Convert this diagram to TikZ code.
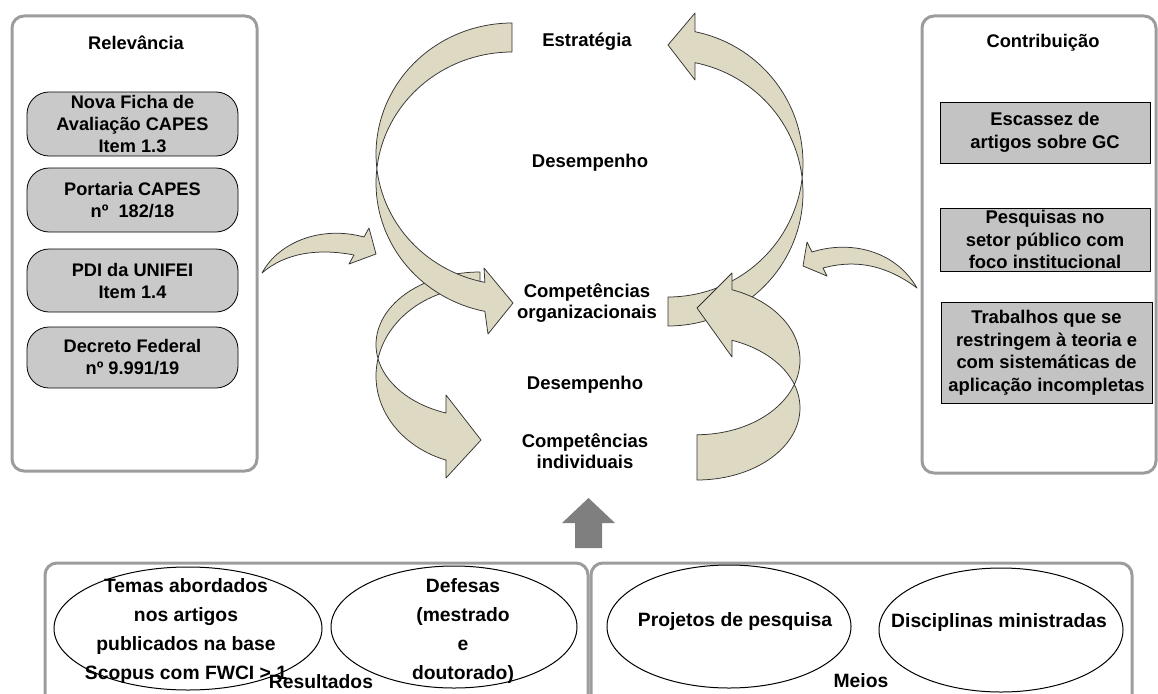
\documentclass[tikz,border=0pt]{standalone}
\usepackage{fontspec}
\setmainfont{Liberation Sans}
\usetikzlibrary{shapes.geometric}
\definecolor{arrowfill}{HTML}{DDD9C3}
\definecolor{arrowline}{HTML}{333333}
\definecolor{lboxgray}{HTML}{C9C9C9}
\definecolor{rboxgray}{HTML}{C3C3C3}
\definecolor{panelgray}{HTML}{9C9C9C}
\definecolor{upgray}{HTML}{7F7F7F}
\newcommand\myfont[2]{\fontsize{#1}{#2}\selectfont\bfseries}
\begin{document}
\begin{tikzpicture}[x=1pt,y=-1pt,
  panel/.style={draw=panelgray, line width=3pt, rounded corners=12pt},
  lbox/.style={draw=black, line width=0.8pt, fill=lboxgray, rounded corners=22pt, minimum width=211pt, align=center, font=\myfont{18.2}{22}, inner sep=0pt},
  rbox/.style={draw=black, line width=0.8pt, fill=rboxgray, minimum width=210pt, align=center, font=\myfont{18.4}{22.5}, inner sep=0pt},
  lbl/.style={align=center, font=\myfont{18.5}{21.5}, inner sep=0pt},
  title/.style={font=\myfont{18.3}{22}, inner sep=0pt},
  oval/.style={draw=black, line width=1pt, ellipse, inner sep=0pt},
  btxt/.style={align=center, font=\myfont{19.3}{29.3}, inner sep=0pt},
  bigarrow/.style={fill=arrowfill, draw=arrowline, line width=0.75pt, line join=round},
  uparrow/.style={fill=upgray, draw=none}
]
\useasboundingbox (0,0) rectangle (1158,693);
\clip (0,0) rectangle (1158,693);

% panels
\draw[panel] (12,16) rectangle (257,471);
\draw[panel] (922,16) rectangle (1156,473);
\draw[panel] (45,563) rectangle (588,720);
\draw[panel] (591,563) rectangle (1132,720);

% panel titles
\node[title] (trel) at (136,43) {Relevância};
\node[title] (tcon) at (1043,43) {Contribuição};

% left boxes
\node[lbox, minimum height=64pt] (b1) at (132.5,124) {Nova Ficha de\\Avaliação CAPES\\Item 1.3};
\node[lbox, minimum height=64pt] (b2) at (132.5,200) {Portaria CAPES\\nº\ \ 182/18};
\node[lbox, minimum height=63pt] (b3) at (132.5,280.5) {PDI da UNIFEI\\Item 1.4};
\node[lbox, minimum height=61pt] (b4) at (132.5,357.5) {Decreto Federal\\nº 9.991/19};

% right boxes
\node[rbox, minimum height=61pt] (rA) at (1045,132.5) {Escassez de\\artigos sobre GC};
\node[rbox, minimum height=63pt] (rB) at (1045,239.5) {Pesquisas no\\setor público com\\foco institucional};
\node[rbox, minimum width=211pt, minimum height=101pt] (rC) at (1046.5,352.5) {Trabalhos que se\\restringem à teoria e\\com sistemáticas de\\aplicação incompletas};

% big curved arrows
% arrow 3 (lower left)
\draw[bigarrow] plot[domain=270:109.1, samples=60, variable=\t] ({480+104*cos(\t)},{344.5+72.5*sin(\t)})
  -- (446,395) -- (481,440) -- (446,478)
  -- plot[domain=109.1:270, samples=60, variable=\t] ({480+104*cos(\t)},{376+89*sin(\t)}) -- cycle;
% arrow 1 (upper left)
\draw[bigarrow] plot[domain=270:101.5, samples=70, variable=\t] ({512+136*cos(\t)},{154+131*sin(\t)})
  -- (484,268) -- (513,303) -- (488,334)
  -- plot[domain=101.5:270, samples=70, variable=\t] ({512+136*cos(\t)},{183+131*sin(\t)}) -- cycle;
% arrow 2 (upper right)
\draw[bigarrow] plot[domain=90:-78.5, samples=70, variable=\t] ({668+135*cos(\t)},{163+134*sin(\t)})
  -- (695,13) -- (668,45) -- (695,80)
  -- plot[domain=-78.5:90, samples=70, variable=\t] ({668+135*cos(\t)},{193+133*sin(\t)}) -- cycle;
% arrow 4 (lower right)
\draw[bigarrow] plot[domain=90:-70.1, samples=60, variable=\t] ({697+103*cos(\t)},{360+74.7*sin(\t)})
  -- (732,273) -- (697,308) -- (732,357)
  -- plot[domain=-70.1:90, samples=60, variable=\t] ({697+103*cos(\t)},{408+72*sin(\t)}) -- cycle;

% small arrows
\coordinate (tl) at (262,273);
\coordinate (tr) at (917,288);
\draw[bigarrow] (tl) .. controls (278,243) and (320,225) .. (364,237)
  -- (369,228) -- (376,254) -- (349,264) -- (354,255)
  .. controls (318,248) and (285,253) .. (tl) -- cycle;
\draw[bigarrow] (tr) .. controls (895,250) and (850,240) .. (812,252)
  -- (807,242) -- (803,266) -- (827,276) -- (823,268)
  .. controls (860,258) and (890,268) .. (tr) -- cycle;

% center labels
\node[lbl] (est) at (587,42) {Estratégia};
\node[lbl] (des1) at (590,163) {Desempenho};
\node[lbl] (co) at (587,303) {Competências\\organizacionais};
\node[lbl] (des2) at (585,385) {Desempenho};
\node[lbl] (ci) at (585,451) {Competências\\individuais};

% up arrow
\draw[uparrow] (588.5,498) -- (615,523) -- (602,523) -- (602,548) -- (575,548) -- (575,523) -- (562,523) -- cycle;

% bottom ellipses
\node[oval, minimum width=268pt, minimum height=123pt] (e1) at (188,628.5) {};
\node[btxt] (t1) at (186,631) {Temas abordados\\nos artigos\\publicados na base\\Scopus com FWCI > 1};
\node[oval, minimum width=246pt, minimum height=122pt] (e2) at (454,627) {};
\node[btxt] (t2) at (463,631) {Defesas\\(mestrado\\e\\doutorado)};
\node[oval, minimum width=244pt, minimum height=123pt] (e3) at (729,626.5) {};
\node[btxt] (t3) at (735,622) {Projetos de pesquisa};
\node[oval, minimum width=244pt, minimum height=124pt] (e4) at (1001,630) {};
\node[btxt] (t4) at (999,623) {Disciplinas ministradas};
\node[btxt] (res) at (321,682) {Resultados};
\node[btxt] (mei) at (861,681) {Meios};
\end{tikzpicture}
\end{document}
